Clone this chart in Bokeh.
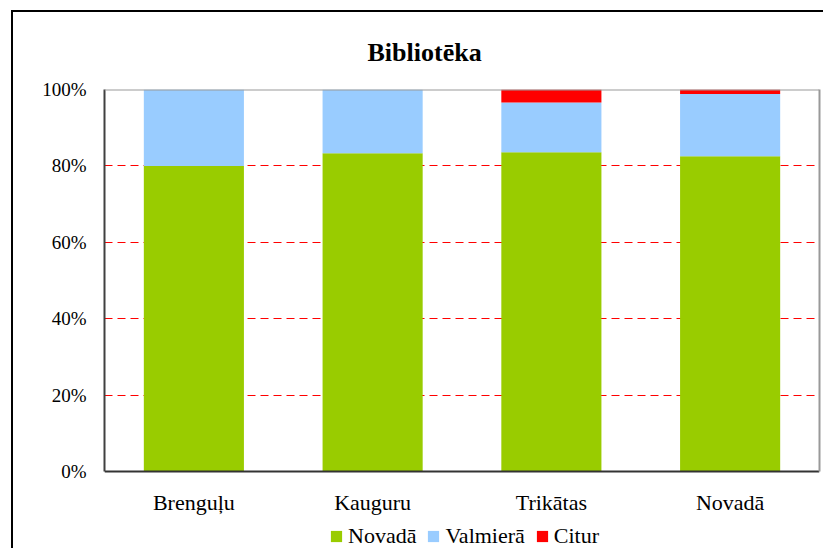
from bokeh.plotting import figure
from bokeh.models import (Range1d, FactorRange, Legend, LegendItem, FixedTicker,
                          PrintfTickFormatter, ColumnDataSource, LinearAxis, Span)
from bokeh.embed import file_html
from bokeh.resources import INLINE

categories = ["Brenguļu", "Kauguru", "Trikātas", "Novadā"]
series_names = ["Novadā", "Valmierā", "Citur"]
novada = [80.0, 83.3, 83.6, 82.5]
valmiera = [20.0, 16.7, 13.0, 16.3]
citur = [0.0, 0.0, 3.4, 1.2]
colors = ["#99cc00", "#99ccff", "#ff0000"]
y_ticks = [0, 20, 40, 60, 80, 100]
grid_ticks = [20, 40, 60, 80]

FONT = "Liberation Serif"

# layout constants (pixels)
FRAME_H = 461      # frame from the 100% line down to the bottom of the canvas
AXIS_H = 382       # pixels covering 0..100
y_start = -100.0 * (FRAME_H - AXIS_H) / AXIS_H

src = ColumnDataSource(dict(cat=categories, novada=novada, valmiera=valmiera, citur=citur))

p = figure(x_range=FactorRange(factors=categories), y_range=Range1d(y_start, 100),
           width=812, height=538, output_backend="svg", toolbar_location=None,
           min_border_left=91, min_border_right=6, min_border_top=77, min_border_bottom=0)
p.styles = {"border-top": "2px solid black", "border-left": "2px solid black",
            "margin-left": "11px", "margin-top": "10px"}

rs = p.vbar_stack(["novada", "valmiera", "citur"], x="cat", width=0.56,
                  color=colors, source=src, line_width=0)

p.xgrid.visible = False
p.ygrid.ticker = FixedTicker(ticks=grid_ticks)
p.ygrid.grid_line_color = "#ff0000"
p.ygrid.grid_line_dash = "8 5"
p.ygrid.grid_line_width = 1

p.outline_line_color = None

# top border of plot area (100%)
p.add_layout(Span(location=100, dimension="width", line_color="#999999", line_width=2))

# right border of plot area
right_axis = LinearAxis(ticker=FixedTicker(ticks=[]), bounds=(0, 100),
                        axis_line_color="#999999", axis_line_width=2,
                        major_tick_line_color=None, minor_tick_line_color=None,
                        major_label_text_font_size="0px")
p.add_layout(right_axis, "right")

p.yaxis[0].ticker = FixedTicker(ticks=y_ticks)
p.yaxis[0].bounds = (0, 100)
p.yaxis[0].formatter = PrintfTickFormatter(format="%d%%")
p.yaxis[0].major_tick_line_color = None
p.yaxis[0].minor_tick_line_color = None
p.yaxis[0].axis_line_color = "#404040"
p.yaxis[0].axis_line_width = 2
p.yaxis[0].major_label_standoff = 12
p.yaxis[0].major_label_text_font = FONT
p.yaxis[0].major_label_text_font_size = "19px"
p.yaxis[0].major_label_text_color = "#000000"

p.xaxis.fixed_location = 0
p.xaxis.major_tick_line_color = None
p.xaxis.minor_tick_line_color = None
p.xaxis.axis_line_color = "#333333"
p.xaxis.axis_line_width = 2
p.xaxis.major_label_standoff = 12
p.xaxis.major_label_text_font = FONT
p.xaxis.major_label_text_font_size = "22px"
p.xaxis.major_label_text_color = "#000000"

p.title.text = "Bibliotēka"
p.title.text_font = FONT
p.title.text_font_style = "bold"
p.title.text_font_size = "26px"
p.title.text_color = "#000000"
p.title.align = "left"
p.title.vertical_align = "top"
p.title.offset = 263
p.title.standoff = 42

legend = Legend(items=[LegendItem(label=n, renderers=[r]) for n, r in zip(series_names, rs)],
                orientation="horizontal", location=(225, 1),
                glyph_width=14, glyph_height=14, label_standoff=5, spacing=10,
                padding=0, margin=0, border_line_alpha=0, background_fill_alpha=0,
                label_text_font=FONT, label_text_font_size="22px",
                label_text_color="#000000")
p.add_layout(legend, "center")

open("out.html", "w").write(file_html(p, INLINE))
